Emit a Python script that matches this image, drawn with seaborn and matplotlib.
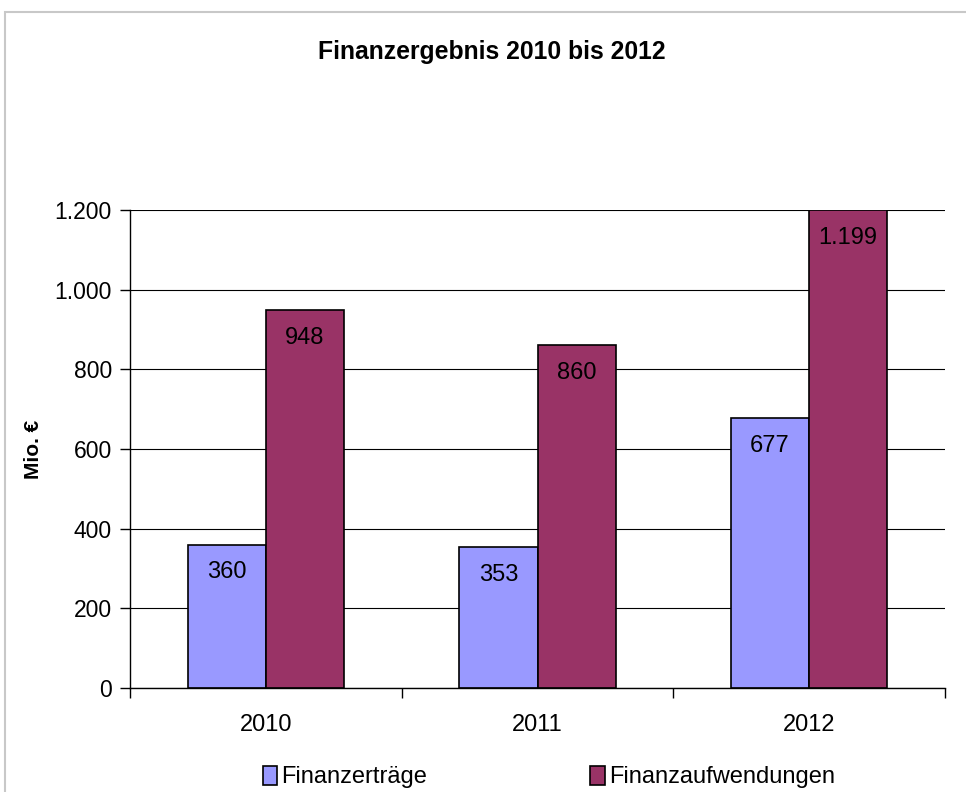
import matplotlib
matplotlib.use("Agg")
import matplotlib.pyplot as plt
import matplotlib.ticker as mticker
from matplotlib.patches import Rectangle
import seaborn as sns
import pandas as pd

years = ["2010", "2011", "2012"]
ertraege = [360, 353, 677]
aufwendungen = [948, 860, 1199]
series_names = ["Finanzerträge", "Finanzaufwendungen"]
colors = ["#9999FF", "#993366"]

df = pd.DataFrame({
    "Jahr": years * 2,
    "Wert": ertraege + aufwendungen,
    "Serie": [series_names[0]] * 3 + [series_names[1]] * 3,
})

sns.set_style("white")
plt.rcParams["font.family"] = ["Liberation Sans", "DejaVu Sans"]
plt.rcParams.update({"text.color": "black", "axes.labelcolor": "black",
                     "xtick.color": "black", "ytick.color": "black"})

fig = plt.figure(figsize=(9.66, 7.92), dpi=100)
ax = fig.add_axes([130 / 966, 1 - 688 / 792, (945 - 130) / 966, (688 - 210) / 792])

sns.barplot(data=df, x="Jahr", y="Wert", hue="Serie", palette=colors, saturation=1,
            width=0.575, edgecolor="black", linewidth=1.2, ax=ax, legend=True)

ax.set_ylim(0, 1200)
ax.set_xlim(-0.5, 2.5)
ax.yaxis.set_major_locator(mticker.MultipleLocator(200))
ax.yaxis.set_major_formatter(mticker.FuncFormatter(lambda v, p: f"{v:,.0f}".replace(",", ".")))
ax.yaxis.grid(True, color="black", linewidth=0.8)
ax.set_axisbelow(True)

ax.set_xticks([-0.5, 0.5, 1.5, 2.5], minor=False)
ax.set_xticklabels([])
ax.set_xticks([0, 1, 2], minor=True)
ax.set_xticklabels(years, minor=True)
ax.tick_params(axis="x", which="major", direction="out", length=7, width=1, color="black", bottom=True)
ax.tick_params(axis="x", which="minor", length=0, pad=19, labelsize=17)
ax.tick_params(axis="y", direction="out", length=7, width=1, color="black", left=True, labelsize=16.5, pad=6)

for s in ["top", "right"]:
    ax.spines[s].set_visible(False)
for s in ["left", "bottom"]:
    ax.spines[s].set_color("black")
    ax.spines[s].set_linewidth(1.0)

ax.set_xlabel("")
ax.set_ylabel("Mio. €", fontsize=15, fontweight="bold", labelpad=8)

for cont in ax.containers:
    ax.bar_label(cont, labels=[f"{v:,.0f}".replace(",", ".") for v in cont.datavalues],
                 padding=-28, fontsize=17, color="black")

ax.legend_.remove()
handles = [Rectangle((0, 0), 1, 1, facecolor=c, edgecolor="black", linewidth=1.2) for c in colors]
fig.legend(handles, series_names, loc="center", bbox_to_anchor=(549 / 966, 1 - 777 / 792),
           ncol=2, frameon=False, fontsize=17, handlelength=0.6, handleheight=0.9,
           handletextpad=0.2, columnspacing=6.9)

fig.text(492 / 966, 1 - 52 / 792, "Finanzergebnis 2010 bis 2012", ha="center", va="center",
         fontsize=17.8, fontweight="bold")

fig.add_artist(Rectangle((5 / 966, -0.1), 1.2, 1 - 12 / 792 + 0.1, transform=fig.transFigure,
                         fill=False, edgecolor="#c8c8c8", linewidth=1.5))

fig.savefig("out.png", dpi=100)
